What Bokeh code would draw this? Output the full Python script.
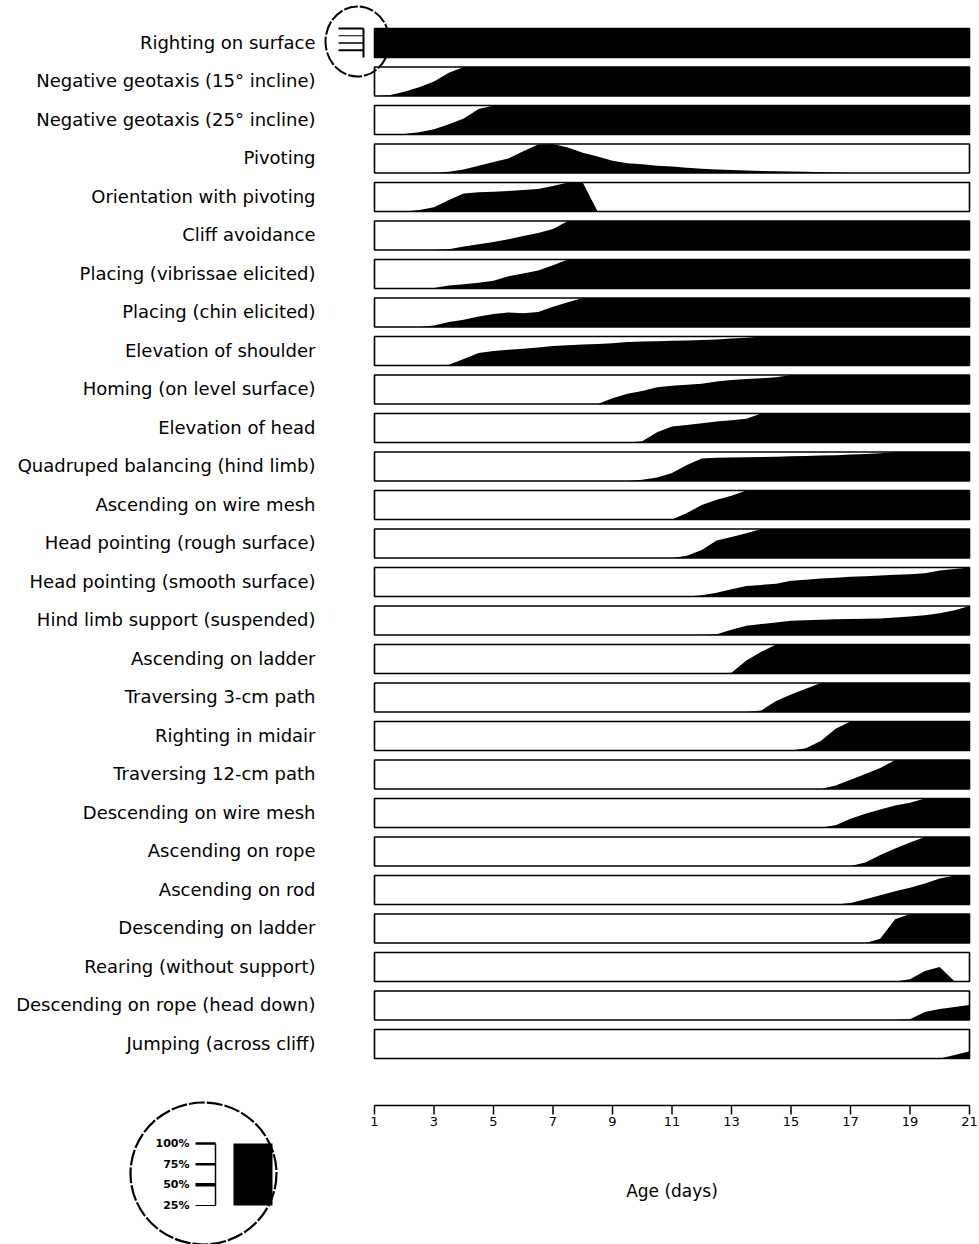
from bokeh.plotting import figure
from bokeh.models import Range1d
from bokeh.embed import file_html
from bokeh.resources import INLINE
from bokeh.core.properties import value

# ---------------------------------------------------------------- data
BEHAVIOURS = [
    "Righting on surface",
    "Negative geotaxis (15\u00b0 incline)",
    "Negative geotaxis (25\u00b0 incline)",
    "Pivoting",
    "Orientation with pivoting",
    "Cliff avoidance",
    "Placing (vibrissae elicited)",
    "Placing (chin elicited)",
    "Elevation of shoulder",
    "Homing (on level surface)",
    "Elevation of head",
    "Quadruped balancing (hind limb)",
    "Ascending on wire mesh",
    "Head pointing (rough surface)",
    "Head pointing (smooth surface)",
    "Hind limb support (suspended)",
    "Ascending on ladder",
    "Traversing 3-cm path",
    "Righting in midair",
    "Traversing 12-cm path",
    "Descending on wire mesh",
    "Ascending on rope",
    "Ascending on rod",
    "Descending on ladder",
    "Rearing (without support)",
    "Descending on rope (head down)",
    "Jumping (across cliff)",
]

# age in days, sampled every half day
DAYS = [1.0, 1.5, 2.0, 2.5, 3.0, 3.5, 4.0, 4.5, 5.0, 5.5,
        6.0, 6.5, 7.0, 7.5, 8.0, 8.5, 9.0, 9.5, 10.0, 10.5,
        11.0, 11.5, 12.0, 12.5, 13.0, 13.5, 14.0, 14.5, 15.0, 15.5,
        16.0, 16.5, 17.0, 17.5, 18.0, 18.5, 19.0, 19.5, 20.0, 20.5,
        21.0]

# percent of pups showing each behaviour
RIGHTING_SURFACE = [100, 100, 100, 100, 100, 100, 100, 100, 100, 100,
                    100, 100, 100, 100, 100, 100, 100, 100, 100, 100,
                    100, 100, 100, 100, 100, 100, 100, 100, 100, 100,
                    100, 100, 100, 100, 100, 100, 100, 100, 100, 100,
                    100]
GEOTAXIS_15 = [0, 3, 15, 30, 50, 80, 100, 100, 100, 100,
               100, 100, 100, 100, 100, 100, 100, 100, 100, 100,
               100, 100, 100, 100, 100, 100, 100, 100, 100, 100,
               100, 100, 100, 100, 100, 100, 100, 100, 100, 100,
               100]
GEOTAXIS_25 = [0, 0, 2, 8, 18, 35, 55, 88, 100, 100,
               100, 100, 100, 100, 100, 100, 100, 100, 100, 100,
               100, 100, 100, 100, 100, 100, 100, 100, 100, 100,
               100, 100, 100, 100, 100, 100, 100, 100, 100, 100,
               100]
PIVOTING = [0, 0, 0, 0, 0, 4, 12, 25, 38, 50,
            75, 98, 100, 88, 70, 57, 42, 34, 30, 25,
            22, 18, 15, 12, 10, 9, 7, 6, 5, 4,
            3, 2, 0, 0, 0, 0, 0, 0, 0, 0,
            0]
ORIENTATION_PIVOT = [0, 0, 0, 5, 15, 40, 62, 66, 68, 71,
                     74, 78, 88, 100, 100, 0, 0, 0, 0, 0,
                     0, 0, 0, 0, 0, 0, 0, 0, 0, 0,
                     0, 0, 0, 0, 0, 0, 0, 0, 0, 0,
                     0]
CLIFF_AVOIDANCE = [0, 0, 0, 0, 0, 3, 12, 20, 28, 37,
                   48, 59, 72, 100, 100, 100, 100, 100, 100, 100,
                   100, 100, 100, 100, 100, 100, 100, 100, 100, 100,
                   100, 100, 100, 100, 100, 100, 100, 100, 100, 100,
                   100]
PLACING_VIBRISSAE = [0, 0, 0, 0, 2, 10, 15, 20, 27, 42,
                     52, 62, 80, 100, 100, 100, 100, 100, 100, 100,
                     100, 100, 100, 100, 100, 100, 100, 100, 100, 100,
                     100, 100, 100, 100, 100, 100, 100, 100, 100, 100,
                     100]
PLACING_CHIN = [0, 0, 0, 0, 5, 17, 25, 36, 45, 50,
                47, 52, 70, 85, 100, 100, 100, 100, 100, 100,
                100, 100, 100, 100, 100, 100, 100, 100, 100, 100,
                100, 100, 100, 100, 100, 100, 100, 100, 100, 100,
                100]
ELEVATION_SHOULDER = [0, 0, 0, 0, 0, 3, 22, 43, 50, 54,
                      58, 62, 67, 70, 72, 74, 77, 81, 83, 84,
                      85, 86, 88, 90, 93, 96, 100, 100, 100, 100,
                      100, 100, 100, 100, 100, 100, 100, 100, 100, 100,
                      100]
HOMING = [0, 0, 0, 0, 0, 0, 0, 0, 0, 0,
          0, 0, 0, 0, 0, 0, 20, 35, 45, 58,
          63, 66, 70, 78, 83, 86, 89, 92, 100, 100,
          100, 100, 100, 100, 100, 100, 100, 100, 100, 100,
          100]
ELEVATION_HEAD = [0, 0, 0, 0, 0, 0, 0, 0, 0, 0,
                  0, 0, 0, 0, 0, 0, 0, 0, 4, 35,
                  55, 60, 66, 72, 77, 82, 100, 100, 100, 100,
                  100, 100, 100, 100, 100, 100, 100, 100, 100, 100,
                  100]
QUADRUPED_BALANCING = [0, 0, 0, 0, 0, 0, 0, 0, 0, 0,
                       0, 0, 0, 0, 0, 0, 0, 0, 4, 12,
                       28, 55, 78, 80, 81, 82, 83, 84, 85, 86,
                       88, 89, 91, 93, 96, 100, 100, 100, 100, 100,
                       100]
ASCENDING_WIRE = [0, 0, 0, 0, 0, 0, 0, 0, 0, 0,
                  0, 0, 0, 0, 0, 0, 0, 0, 0, 0,
                  0, 22, 50, 68, 82, 100, 100, 100, 100, 100,
                  100, 100, 100, 100, 100, 100, 100, 100, 100, 100,
                  100]
HEAD_POINTING_ROUGH = [0, 0, 0, 0, 0, 0, 0, 0, 0, 0,
                       0, 0, 0, 0, 0, 0, 0, 0, 0, 0,
                       0, 8, 28, 60, 72, 85, 100, 100, 100, 100,
                       100, 100, 100, 100, 100, 100, 100, 100, 100, 100,
                       100]
HEAD_POINTING_SMOOTH = [0, 0, 0, 0, 0, 0, 0, 0, 0, 0,
                        0, 0, 0, 0, 0, 0, 0, 0, 0, 0,
                        0, 0, 4, 13, 25, 36, 40, 44, 54, 58,
                        62, 65, 68, 70, 72, 75, 77, 80, 90, 95,
                        100]
HIND_LIMB_SUPPORT = [0, 0, 0, 0, 0, 0, 0, 0, 0, 0,
                     0, 0, 0, 0, 0, 0, 0, 0, 0, 0,
                     0, 0, 0, 3, 18, 32, 38, 43, 49, 51,
                     53, 54, 55, 56, 57, 60, 64, 68, 75, 85,
                     100]
ASCENDING_LADDER = [0, 0, 0, 0, 0, 0, 0, 0, 0, 0,
                    0, 0, 0, 0, 0, 0, 0, 0, 0, 0,
                    0, 0, 0, 0, 3, 45, 75, 100, 100, 100,
                    100, 100, 100, 100, 100, 100, 100, 100, 100, 100,
                    100]
TRAVERSING_3CM = [0, 0, 0, 0, 0, 0, 0, 0, 0, 0,
                  0, 0, 0, 0, 0, 0, 0, 0, 0, 0,
                  0, 0, 0, 0, 0, 0, 5, 38, 60, 80,
                  100, 100, 100, 100, 100, 100, 100, 100, 100, 100,
                  100]
RIGHTING_MIDAIR = [0, 0, 0, 0, 0, 0, 0, 0, 0, 0,
                   0, 0, 0, 0, 0, 0, 0, 0, 0, 0,
                   0, 0, 0, 0, 0, 0, 0, 0, 0, 8,
                   33, 75, 100, 100, 100, 100, 100, 100, 100, 100,
                   100]
TRAVERSING_12CM = [0, 0, 0, 0, 0, 0, 0, 0, 0, 0,
                   0, 0, 0, 0, 0, 0, 0, 0, 0, 0,
                   0, 0, 0, 0, 0, 0, 0, 0, 0, 0,
                   0, 12, 32, 52, 72, 100, 100, 100, 100, 100,
                   100]
DESCENDING_WIRE = [0, 0, 0, 0, 0, 0, 0, 0, 0, 0,
                   0, 0, 0, 0, 0, 0, 0, 0, 0, 0,
                   0, 0, 0, 0, 0, 0, 0, 0, 0, 0,
                   0, 8, 30, 47, 62, 76, 85, 100, 100, 100,
                   100]
ASCENDING_ROPE = [0, 0, 0, 0, 0, 0, 0, 0, 0, 0,
                  0, 0, 0, 0, 0, 0, 0, 0, 0, 0,
                  0, 0, 0, 0, 0, 0, 0, 0, 0, 0,
                  0, 0, 0, 12, 38, 60, 81, 100, 100, 100,
                  100]
ASCENDING_ROD = [0, 0, 0, 0, 0, 0, 0, 0, 0, 0,
                 0, 0, 0, 0, 0, 0, 0, 0, 0, 0,
                 0, 0, 0, 0, 0, 0, 0, 0, 0, 0,
                 0, 0, 5, 18, 32, 46, 58, 72, 90, 100,
                 100]
DESCENDING_LADDER = [0, 0, 0, 0, 0, 0, 0, 0, 0, 0,
                     0, 0, 0, 0, 0, 0, 0, 0, 0, 0,
                     0, 0, 0, 0, 0, 0, 0, 0, 0, 0,
                     0, 0, 0, 0, 15, 82, 100, 100, 100, 100,
                     100]
REARING = [0, 0, 0, 0, 0, 0, 0, 0, 0, 0,
           0, 0, 0, 0, 0, 0, 0, 0, 0, 0,
           0, 0, 0, 0, 0, 0, 0, 0, 0, 0,
           0, 0, 0, 0, 0, 0, 8, 36, 50, 0,
           0]
DESCENDING_ROPE = [0, 0, 0, 0, 0, 0, 0, 0, 0, 0,
                   0, 0, 0, 0, 0, 0, 0, 0, 0, 0,
                   0, 0, 0, 0, 0, 0, 0, 0, 0, 0,
                   0, 0, 0, 0, 0, 0, 3, 28, 38, 45,
                   52]
JUMPING = [0, 0, 0, 0, 0, 0, 0, 0, 0, 0,
           0, 0, 0, 0, 0, 0, 0, 0, 0, 0,
           0, 0, 0, 0, 0, 0, 0, 0, 0, 0,
           0, 0, 0, 0, 0, 0, 0, 0, 0, 12,
           25]

PERCENT = [
    RIGHTING_SURFACE, GEOTAXIS_15, GEOTAXIS_25, PIVOTING, ORIENTATION_PIVOT,
    CLIFF_AVOIDANCE, PLACING_VIBRISSAE, PLACING_CHIN, ELEVATION_SHOULDER,
    HOMING, ELEVATION_HEAD, QUADRUPED_BALANCING, ASCENDING_WIRE,
    HEAD_POINTING_ROUGH, HEAD_POINTING_SMOOTH, HIND_LIMB_SUPPORT,
    ASCENDING_LADDER, TRAVERSING_3CM, RIGHTING_MIDAIR, TRAVERSING_12CM,
    DESCENDING_WIRE, ASCENDING_ROPE, ASCENDING_ROD, DESCENDING_LADDER,
    REARING, DESCENDING_ROPE, JUMPING,
]
assert all(len(row) == len(DAYS) for row in PERCENT)

AGE_TICKS = [1, 3, 5, 7, 9, 11, 13, 15, 17, 19, 21]
SCALE_LEVELS = [100, 75, 50, 25]
SCALE_LABELS = ["100%", "75%", "50%", "25%"]

# ---------------------------------------------------------------- layout
W, H = 979, 1244
DAY1_PX, PX_PER_DAY = 374.0, 29.75
X_START = 1 - DAY1_PX / PX_PER_DAY
X_END = X_START + W / PX_PER_DAY

ROW_TOP0, ROW_STEP, BOX_H = 28.0, 38.5, 29.0
LABEL_RIGHT = 315
AXIS_Y = 1105
FONT = value("DejaVu Sans")

p = figure(width=W, height=H, x_range=Range1d(X_START, X_END),
           y_range=Range1d(H, 0), output_backend="svg",
           toolbar_location=None, x_axis_location=None,
           y_axis_location=None, min_border=0)
p.extra_x_ranges = {"px": Range1d(0, W)}
p.outline_line_color = None
p.xgrid.visible = False
p.ygrid.visible = False
p.background_fill_color = "white"
p.border_fill_color = "white"

tops = [ROW_TOP0 + i * ROW_STEP for i in range(len(BEHAVIOURS))]
bottoms = [t + BOX_H for t in tops]
n = len(BEHAVIOURS)

# white boxes, one per behaviour
p.quad(left=[DAYS[0]] * n, right=[DAYS[-1]] * n, top=tops, bottom=bottoms,
       fill_color="white", line_color=None)

# black filled profile = percent of animals at each age
for vals, bot in zip(PERCENT, bottoms):
    p.varea(x=DAYS, y1=[bot] * len(DAYS),
            y2=[bot - v / 100 * BOX_H for v in vals],
            fill_color="black")

p.quad(left=[DAYS[0]] * n, right=[DAYS[-1]] * n, top=tops, bottom=bottoms,
       fill_color=None, line_color="black", line_width=1.6)

# behaviour names
p.text(x=[LABEL_RIGHT] * n, y=[t + BOX_H / 2 - 1 for t in tops], text=BEHAVIOURS,
       x_range_name="px", text_align="right", text_baseline="middle",
       text_font=FONT, text_font_size="18px", text_color="black")

# age axis drawn as a ruler
p.segment(x0=[AGE_TICKS[0]], x1=[AGE_TICKS[-1]], y0=[AXIS_Y], y1=[AXIS_Y],
          line_color="black", line_width=1.5)
p.segment(x0=AGE_TICKS, x1=AGE_TICKS, y0=[AXIS_Y] * len(AGE_TICKS),
          y1=[AXIS_Y + 9] * len(AGE_TICKS), line_color="black", line_width=1.5)
p.text(x=AGE_TICKS, y=[AXIS_Y + 11] * len(AGE_TICKS),
       text=[str(t) for t in AGE_TICKS], text_align="center",
       text_baseline="top", text_font=FONT, text_font_size="13px",
       text_color="black")
p.text(x=[11], y=[1190], text=["Age (days)"], text_align="center",
       text_baseline="middle", text_font=FONT, text_font_size="17px",
       text_color="black")

# magnifier on the first bar
row0_bot = bottoms[0]
mag_y = [row0_bot - lv / 100 * BOX_H for lv in SCALE_LEVELS]
p.segment(x0=[338] * 4, x1=[363] * 4, y0=mag_y, y1=mag_y, x_range_name="px",
          line_color="black", line_width=[2, 1, 1.5, 2])
p.segment(x0=[363], x1=[363], y0=[tops[0]], y1=[row0_bot], x_range_name="px",
          line_color="black", line_width=2)
p.ellipse(x=[357], y=[41], width=64, height=70, x_range_name="px",
          fill_color=None, line_color="black", line_width=2, line_dash="14 2")

# enlarged scale key
KEY_TOP, KEY_BOT = 1143, 1205
key_y = [KEY_BOT - (lv - 25) / 75 * (KEY_BOT - KEY_TOP) for lv in SCALE_LEVELS]
p.ellipse(x=[203], y=[1173], width=146, height=142, x_range_name="px",
          fill_color="white", line_color="black", line_width=2.2, line_dash="16 2")
p.quad(left=[233], right=[272], top=[KEY_TOP], bottom=[KEY_BOT],
       x_range_name="px", fill_color="black", line_color=None)
p.segment(x0=[195] * 4, x1=[215] * 4, y0=key_y, y1=key_y, x_range_name="px",
          line_color="black", line_width=[2.5, 2.5, 3.5, 1])
p.segment(x0=[215], x1=[215], y0=[KEY_TOP], y1=[KEY_BOT], x_range_name="px",
          line_color="black", line_width=1.5)
p.text(x=[189] * 4, y=key_y, text=SCALE_LABELS, x_range_name="px",
       text_align="right", text_baseline="middle", text_font=FONT,
       text_font_size="11px", text_font_style="bold", text_color="black")

open("out.html", "w").write(file_html(p, INLINE))
